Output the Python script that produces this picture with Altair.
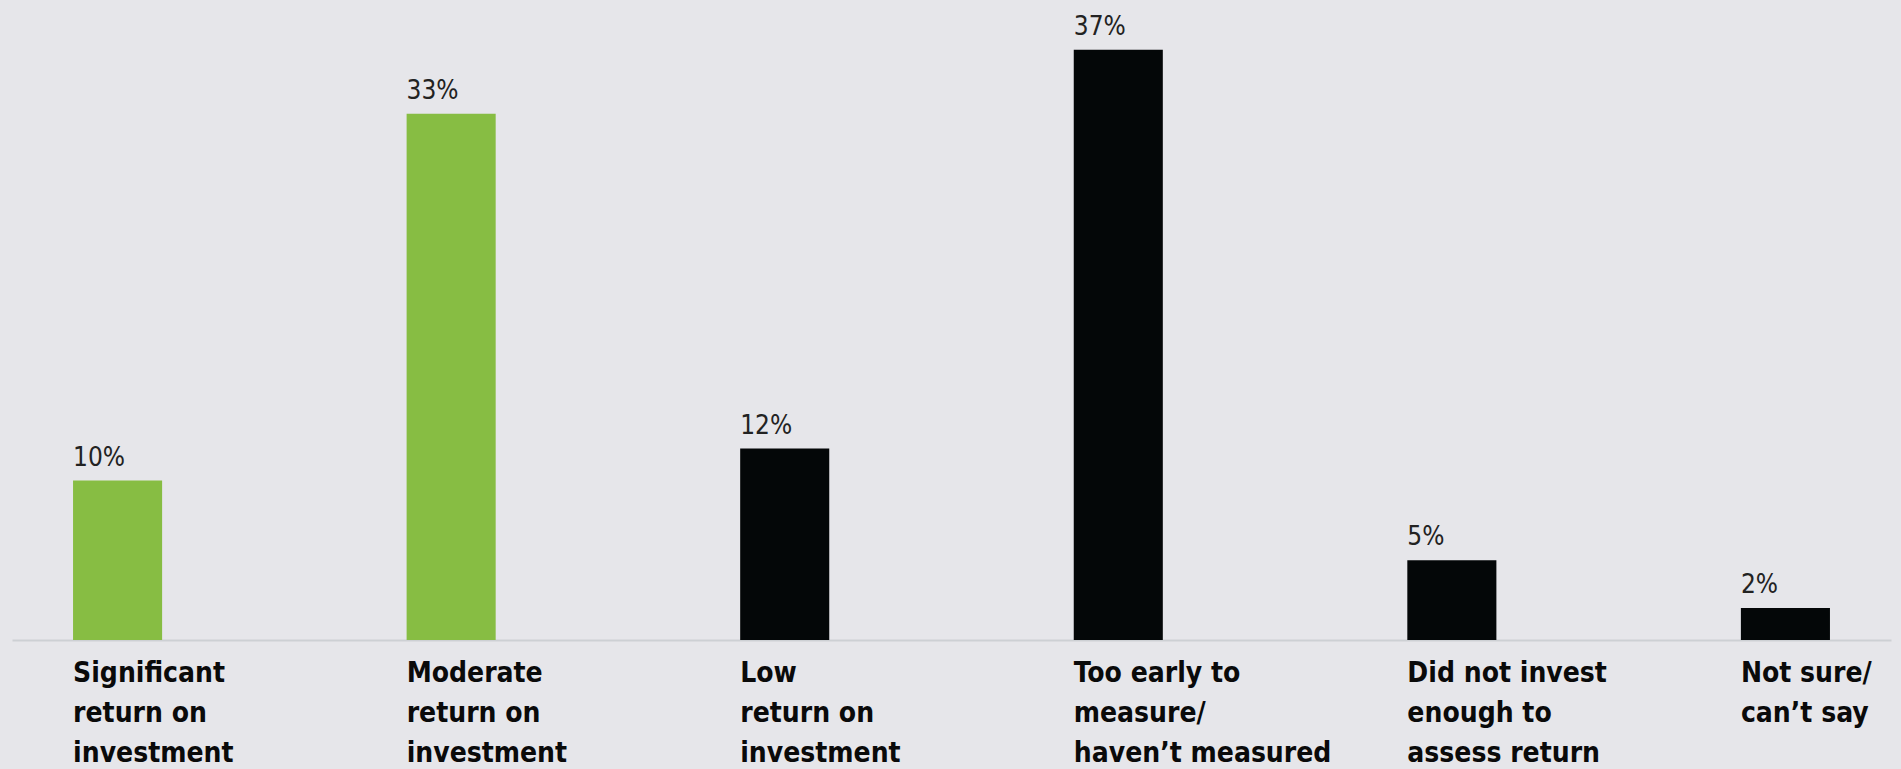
import altair as alt
import pandas as pd

categories = [
    "Significant\nreturn on\ninvestment",
    "Moderate\nreturn on\ninvestment",
    "Low\nreturn on\ninvestment",
    "Too early to\nmeasure/\nhaven\u2019t measured",
    "Did not invest\nenough to\nassess return",
    "Not sure/\ncan\u2019t say",
]
values = [10, 33, 12, 37, 5, 2]
groups = ["Positive return", "Positive return", "Other", "Other", "Other", "Other"]

df = pd.DataFrame({"category": categories, "value": values, "group": groups})
df["label"] = df["value"].astype(str) + "%"

FONT = "DejaVu Sans Condensed, Liberation Sans Narrow, Roboto, sans-serif"

xscale = alt.Scale(paddingInner=0.733, paddingOuter=0.183)

base = alt.Chart(df)

bars = base.mark_bar().encode(
    x=alt.X(
        "category:N",
        sort=categories,
        scale=xscale,
        axis=alt.Axis(
            title=None,
            labelAlign="left",
            labelBaseline="top",
            labelExpr="split(datum.value, '\\n')",
            labelFont=FONT,
            labelFontSize=28,
            labelFontWeight="bold",
            labelLineHeight=40,
            labelColor="#0a0a0a",
            labelPadding=19,
            labelOffset=-44.5,
            ticks=False,
            tickSize=0,
            domainColor="#cdd0d4",
            domainWidth=2,
            labelAngle=0,
            labelOverlap=False,
            labelFlush=False,
            labelBound=False,
            labelLimit=0,
        ),
    ),
    y=alt.Y("value:Q", scale=alt.Scale(domain=[0, 40]), axis=None),
    color=alt.Color(
        "group:N",
        scale=alt.Scale(domain=["Positive return", "Other"], range=["#87bd43", "#040708"]),
        legend=None,
    ),
)

texts = base.mark_text(
    align="left", baseline="alphabetic", dy=-15, font=FONT, fontSize=26, color="#222222"
).encode(
    x=alt.X("category:N", sort=categories, bandPosition=0),
    y=alt.Y("value:Q"),
    text="label:N",
)

chart = (
    alt.layer(bars, texts)
    .properties(
        width=1879,
        height=638,
        autosize=alt.AutoSizeParams(type="none"),
        padding={"left": 12, "top": 2, "right": 10, "bottom": 129},
        background="#e6e6ea",
    )
    .configure_view(stroke=None)
)

chart.save("out.html", embed_options={"renderer": "svg", "actions": False})
